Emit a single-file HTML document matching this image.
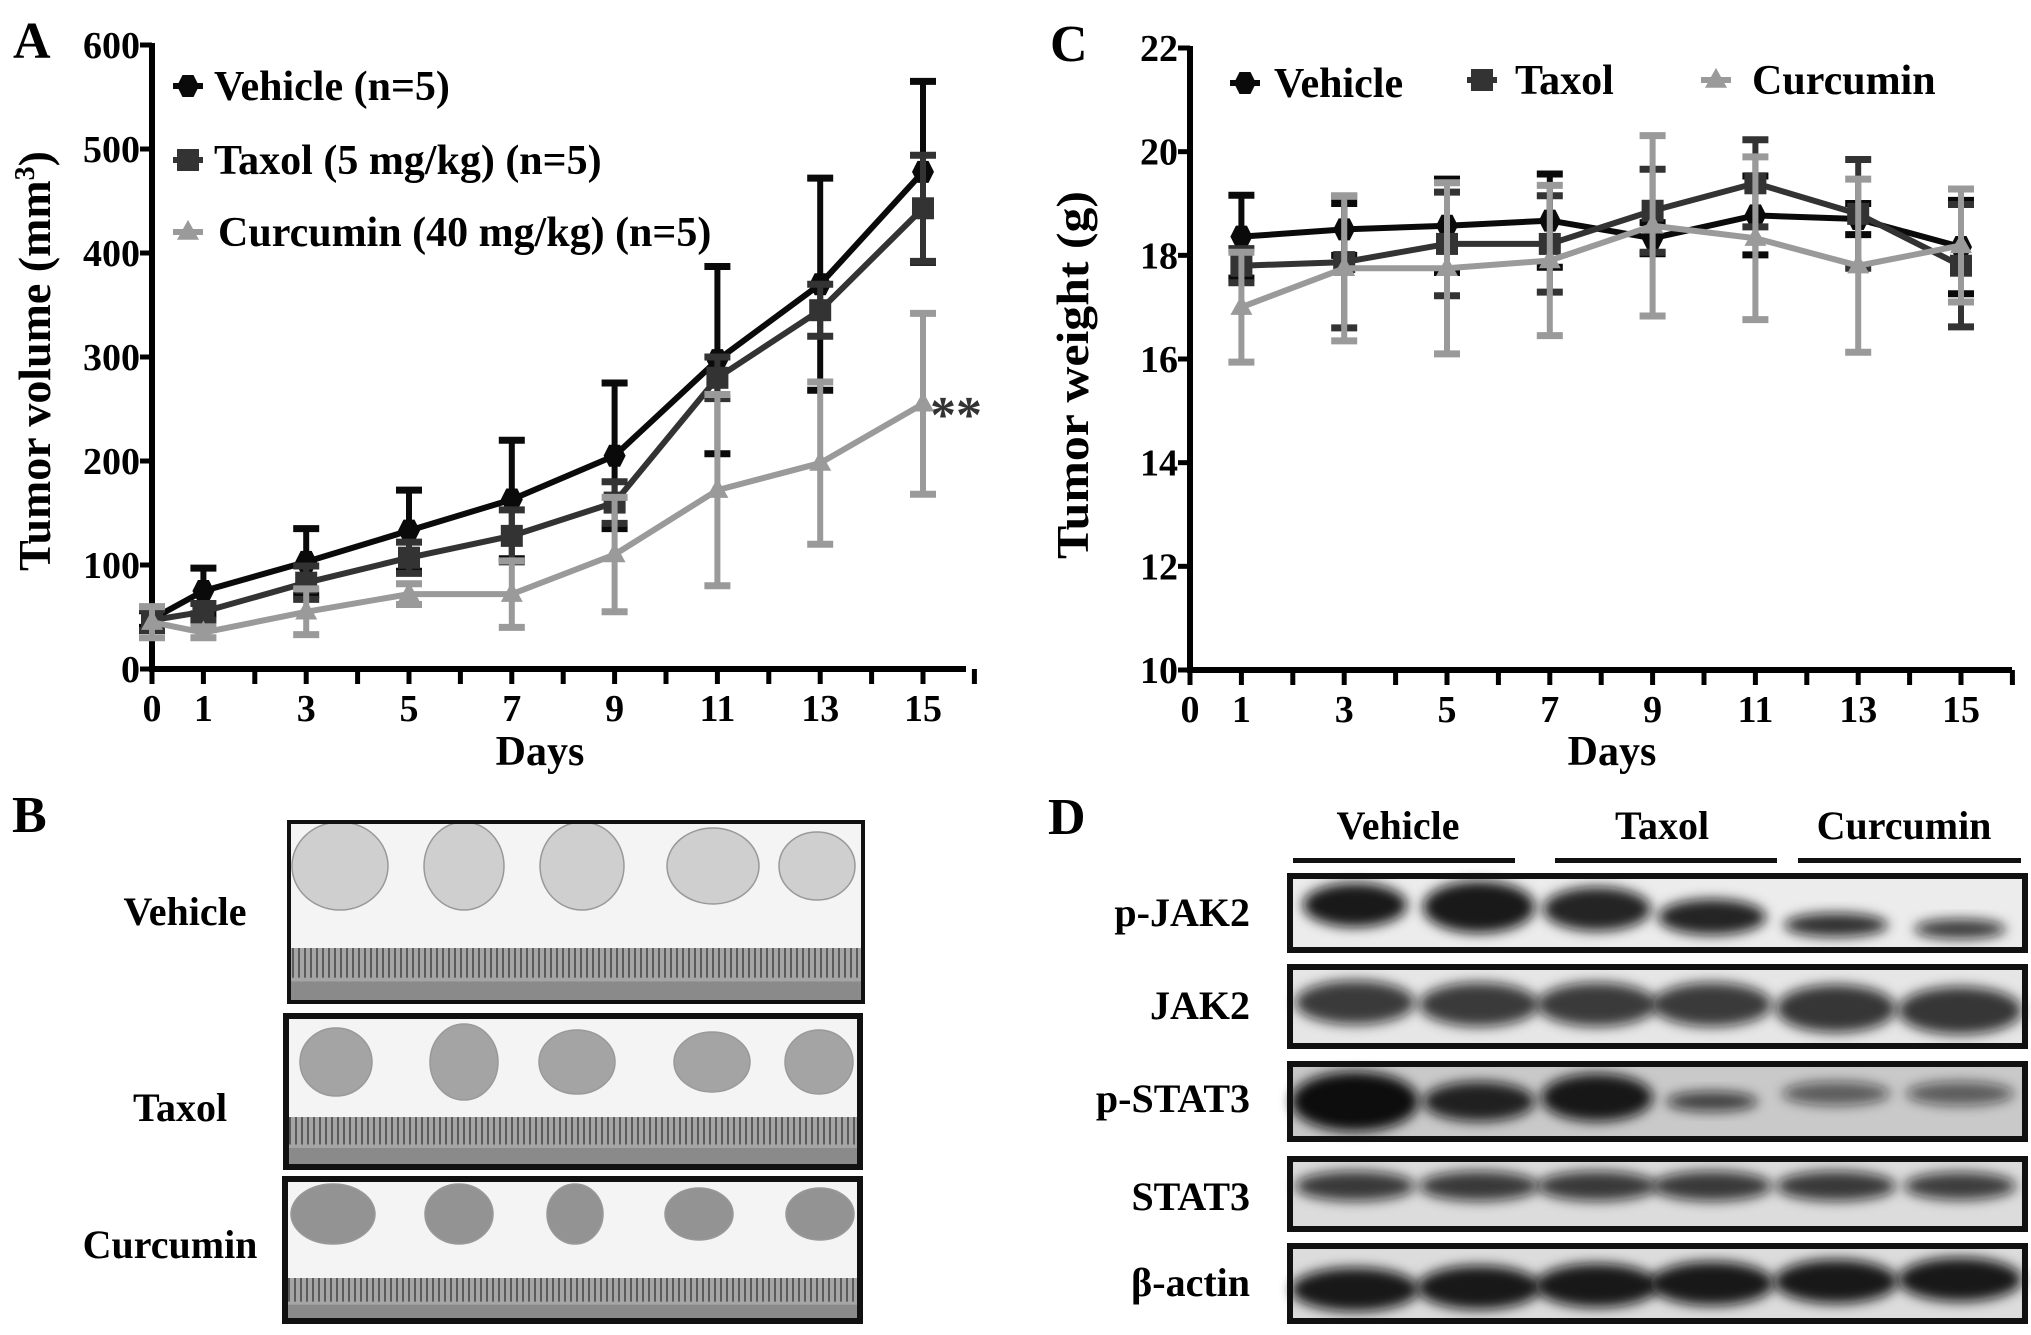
<!DOCTYPE html>
<html><head><meta charset="utf-8"><style>
html,body{margin:0;padding:0;background:#fff}
svg{display:block}
svg text{font-family:"Liberation Serif","Noto Serif CJK SC","DejaVu Serif","Times New Roman",serif;font-weight:bold;fill:#000}
</style></head><body>
<svg id="fig" width="2031" height="1335" viewBox="0 0 2031 1335" xmlns="http://www.w3.org/2000/svg" font-weight="bold" style="font-family:'Liberation Serif','Noto Serif CJK SC','DejaVu Serif','Times New Roman',serif">
<defs>
<filter id="blur" x="-20%" y="-50%" width="140%" height="200%"><feGaussianBlur stdDeviation="6"/></filter>
</defs>
<g id="panelA">
<text x="13" y="58" font-size="52">A</text>
<text transform="translate(50,361) rotate(-90)" text-anchor="middle" font-size="46" textLength="420" lengthAdjust="spacingAndGlyphs">Tumor volume (mm<tspan font-size="28" dy="-16">3</tspan><tspan dy="16">)</tspan></text>
<text x="540" y="765" text-anchor="middle" font-size="42">Days</text>
<text x="930" y="432" font-size="52" style="fill:#333">**</text>
</g>
<g id="panelC">
<text x="1050" y="61" font-size="52">C</text>
<text transform="translate(1088,375) rotate(-90)" text-anchor="middle" font-size="46" textLength="368" lengthAdjust="spacingAndGlyphs">Tumor weight (g)</text>
<text x="1612" y="765" text-anchor="middle" font-size="42">Days</text>
</g>
<g id="panelB">
<text x="12" y="832" font-size="52">B</text>
<text x="185" y="925" text-anchor="middle" font-size="40">Vehicle</text>
<text x="180" y="1121" text-anchor="middle" font-size="40">Taxol</text>
<text x="170" y="1258" text-anchor="middle" font-size="40">Curcumin</text>
</g>
<g id="panelD">
<text x="1048" y="834" font-size="52">D</text>
<text x="1398" y="839" text-anchor="middle" font-size="40">Vehicle</text>
<text x="1662" y="839" text-anchor="middle" font-size="40">Taxol</text>
<text x="1904" y="839" text-anchor="middle" font-size="40">Curcumin</text>
<rect x="1293" y="858" width="222" height="5" fill="#111"/>
<rect x="1555" y="858" width="222" height="5" fill="#111"/>
<rect x="1798" y="858" width="223" height="5" fill="#111"/>
</g>
</svg>
<script>
// ---- Panel A data ----
const daysA = [0,1,3,5,7,9,11,13,15];
const vehicleA = [48,75,103,133,163,205,297,370,478];
const vehicleAErr = [8,22,32,39,57,70,90,102,87];
const taxolA = [47,55,83,107,128,160,280,345,443];
const taxolAErr = [10,8,16,15,25,20,20,25,51];
const curcuminA = [45,35,55,72,72,110,172,198,255];
const curcuminAErr = [15,5,22,10,32,55,92,78,87];
const yTicksA = [0,100,200,300,400,500,600];
const xTickLabelsA = [0,1,3,5,7,9,11,13,15];
// ---- Panel C data ----
const daysC = [1,3,5,7,9,11,13,15];
const vehicleC = [18.36,18.5,18.57,18.67,18.33,18.77,18.7,18.16];
const vehicleCErr = [0.8,0.5,0.9,0.9,0.3,0.76,0.3,0.9];
const taxolC = [17.8,17.87,18.22,18.22,18.86,19.39,18.8,17.8];
const taxolCErr = [0.33,1.27,1.0,0.93,0.8,0.84,1.05,1.18];
const curcuminC = [17.0,17.75,17.75,17.9,18.57,18.33,17.8,18.19];
const curcuminCErr = [1.06,1.4,1.65,1.45,1.74,1.57,1.67,1.09];
const yTicksC = [10,12,14,16,18,20,22];
const xTickLabelsC = [0,1,3,5,7,9,11,13,15];
const seriesNames = ['Vehicle (n=5)','Taxol (5 mg/kg) (n=5)','Curcumin (40 mg/kg) (n=5)'];
const seriesNamesC = ['Vehicle','Taxol','Curcumin'];

const NS='http://www.w3.org/2000/svg';
function mk(parent,tag,attrs){const e=document.createElementNS(NS,tag);for(const k in attrs)e.setAttribute(k,attrs[k]);parent.appendChild(e);return e;}
const COLORS=['#0a0a0a','#333333','#9a9a9a'];

function marker(g,kind,x,y,color,s){
  let m;
  if(kind===0){m=mk(g,'path',{d:`M${x-s} ${y}L${x-s*0.5} ${y-s}L${x+s*0.5} ${y-s}L${x+s} ${y}L${x+s*0.5} ${y+s}L${x-s*0.5} ${y+s}Z`,fill:color});}
  else if(kind===1){m=mk(g,'rect',{x:x-s,y:y-s,width:2*s,height:2*s,fill:color});}
  else {m=mk(g,'path',{d:`M${x} ${y-s*1.1}L${x+s} ${y+s*0.7}L${x-s} ${y+s*0.7}Z`,fill:color});}
  return m;
}

function drawChart(gid,ax){
  const g=document.getElementById(gid);
  const X=d=>ax.x0+d*ax.dx;
  const Y=v=>ax.yb-(v-ax.vmin)*(ax.yb-ax.yt)/(ax.vmax-ax.vmin);
  const yl=mk(g,'line',{x1:ax.ax,y1:ax.yt-2,x2:ax.ax,y2:ax.yb+3,stroke:'#000','stroke-width':6});
  
  
  const xl=mk(g,'line',{x1:ax.ax-3,y1:ax.yb,x2:ax.xend,y2:ax.yb,stroke:'#000','stroke-width':6});
  
  
  ax.yTicks.forEach(v=>{
    mk(g,'line',{x1:ax.ax-12,y1:Y(v),x2:ax.ax,y2:Y(v),stroke:'#000','stroke-width':5});
    const t=mk(g,'text',{x:ax.ax-12,y:Y(v)+13,'text-anchor':'end','font-size':38});
    t.textContent=v;
    
    
  });
  for(let d=0;d<=ax.maxDay;d++){
    mk(g,'line',{x1:X(d),y1:ax.yb,x2:X(d),y2:ax.yb+15,stroke:'#000','stroke-width':5});
  }
  ax.xTicks.forEach(d=>{
    const t=mk(g,'text',{x:X(d),y:ax.yb+52,'text-anchor':'middle','font-size':38});
    t.textContent=d;
    
    
  });
  ax.series.forEach((s,si)=>{
    const sg=mk(g,'g',{});
    
    
    const c=COLORS[si];
    s.vals.forEach((v,i)=>{
      const x=X(ax.days[i]);
      mk(sg,'line',{x1:x,y1:Y(v+s.err[i]),x2:x,y2:Y(v-s.err[i]),stroke:c,'stroke-width':6});
      mk(sg,'line',{x1:x-13,y1:Y(v+s.err[i]),x2:x+13,y2:Y(v+s.err[i]),stroke:c,'stroke-width':7});
      mk(sg,'line',{x1:x-13,y1:Y(v-s.err[i]),x2:x+13,y2:Y(v-s.err[i]),stroke:c,'stroke-width':7});
    });
    const pts=s.vals.map((v,i)=>X(ax.days[i])+','+Y(v)).join(' ');
    const pl=mk(sg,'polyline',{points:pts,fill:'none',stroke:c,'stroke-width':6,'stroke-linejoin':'round'});
    
    
    s.vals.forEach((v,i)=>{
      const m=marker(sg,si,X(ax.days[i]),Y(v),c,11);
      
      
    });
  });
  ax.legend.forEach((L,i)=>{
    const lg=mk(g,'g',{});
    
    
    mk(lg,'line',{x1:L.mx-15,y1:L.y-14,x2:L.mx+15,y2:L.y-14,stroke:COLORS[i],'stroke-width':6});
    marker(lg,i,L.mx,L.y-14,COLORS[i],11);
    const t=mk(lg,'text',{x:L.tx,y:L.y,'font-size':42});
    t.textContent=L.label;
  });
}

drawChart('panelA',{p:'a',x0:152,dx:51.4,ax:152,xend:966,maxDay:16,yb:669,yt:45,vmin:0,vmax:600,
  yTicks:yTicksA,xTicks:xTickLabelsA,days:daysA,
  series:[{key:'vehicle',vals:vehicleA,err:vehicleAErr},{key:'taxol',vals:taxolA,err:taxolAErr},{key:'curcumin',vals:curcuminA,err:curcuminAErr}],
  legend:[{mx:188,tx:214,y:100,label:seriesNames[0]},{mx:188,tx:214,y:174,label:seriesNames[1]},{mx:188,tx:218,y:246,label:seriesNames[2]}]});

drawChart('panelC',{p:'c',x0:1190,dx:51.4,ax:1190,xend:2012,maxDay:16,yb:670,yt:48,vmin:10,vmax:22,
  yTicks:yTicksC,xTicks:xTickLabelsC,days:daysC,
  series:[{key:'vehicle',vals:vehicleC,err:vehicleCErr},{key:'taxol',vals:taxolC,err:taxolCErr},{key:'curcumin',vals:curcuminC,err:curcuminCErr}],
  legend:[{mx:1245,tx:1274,y:97,label:seriesNamesC[0]},{mx:1482,tx:1515,y:94,label:seriesNamesC[1]},{mx:1716,tx:1752,y:94,label:seriesNamesC[2]}]});

// ---- Panel B photos ----
(function(){
  const g=document.getElementById('panelB');
  const boxes=[
    {k:'vehicle',x:289,y:822,w:574,h:180,cy:866,rulerY:948,tumors:[[340,48,44],[464,40,44],[582,42,44],[713,46,38],[817,38,34]],fill:'#cfcfcf',bw:4},
    {k:'taxol',x:286,y:1016,w:574,h:151,cy:1062,rulerY:1117,tumors:[[336,36,34],[464,34,38],[577,38,32],[712,38,30],[819,34,32]],fill:'#a4a4a4',bw:6},
    {k:'curcumin',x:285,y:1179,w:575,h:142,cy:1214,rulerY:1278,tumors:[[333,42,30],[459,34,30],[575,28,30],[699,34,26],[820,34,26]],fill:'#939393',bw:6}
  ];
  boxes.forEach(b=>{
    const bg=mk(g,'g',{});
    
    
    mk(bg,'rect',{x:b.x,y:b.y,width:b.w,height:b.h,fill:'#f4f4f4'});
    b.tumors.forEach(t=>{
      const e=mk(bg,'ellipse',{cx:t[0],cy:b.cy,rx:t[1],ry:t[2],fill:b.fill,stroke:'#999','stroke-width':1.5});
      
      
    });
    const ry=b.rulerY, rh=b.y+b.h-ry;
    mk(bg,'rect',{x:b.x,y:ry,width:b.w,height:rh,fill:'#a5a5a5'});
    mk(bg,'rect',{x:b.x,y:ry+rh*0.62,width:b.w,height:rh*0.38,fill:'#8a8a8a'});
    for(let xx=b.x+4;xx<b.x+b.w;xx+=6){
      mk(bg,'line',{x1:xx,y1:ry,x2:xx,y2:ry+rh*0.55,stroke:'#333','stroke-width':1.3});
    }
    mk(bg,'rect',{x:b.x,y:b.y,width:b.w,height:b.h,fill:'none',stroke:'#111','stroke-width':b.bw});
  });
})();

// ---- Panel D blots ----
const blotLabels = ['p-JAK2','JAK2','p-STAT3','STAT3','β-actin'];
(function(){
  const g=document.getElementById('panelD');
  const lanes=[1355,1479,1597,1712,1836,1960];
  const rows=[
    {y:876,h:74,bg:'#ececec',bands:[[0,-8,0.95,52,22],[1,-6,0.95,56,26],[2,-4,0.9,54,22],[3,4,0.9,54,18],[4,12,0.85,52,12],[5,16,0.8,46,10]],base:926},
    {y:967,h:79,bg:'#e6e6e6',bands:[[0,-4,0.8,60,22],[1,-2,0.8,60,22],[2,-2,0.8,60,22],[3,-2,0.8,60,22],[4,2,0.82,60,24],[5,4,0.82,62,24]],base:1019},
    {y:1064,h:75,bg:'#c9c9c9',bands:[[0,0,1,64,30],[1,0,0.9,56,20],[2,-4,0.95,56,24],[3,0,0.75,46,10],[4,-8,0.6,54,12],[5,-8,0.6,54,12]],base:1112},
    {y:1159,h:70,bg:'#dcdcdc',bands:[[0,-8,0.8,60,15],[1,-8,0.8,60,15],[2,-8,0.8,60,15],[3,-8,0.8,60,15],[4,-8,0.8,60,15],[5,-8,0.78,56,14]],base:1210},
    {y:1246,h:75,bg:'#dcdcdc',bands:[[0,6,0.95,64,22],[1,4,0.95,62,22],[2,2,0.95,62,22],[3,0,0.95,62,22],[4,-2,0.95,62,22],[5,-4,0.95,62,22]],base:1296}
  ];
  rows.forEach((r,ri)=>{
    const rg=mk(g,'g',{});
    
    
    mk(rg,'rect',{x:1290,y:r.y,width:735,height:r.h,fill:r.bg});
    r.bands.forEach(b=>{
      const e=mk(rg,'ellipse',{cx:lanes[b[0]],cy:r.y+r.h/2+b[1],rx:b[3],ry:b[4],fill:'#111','fill-opacity':b[2],filter:'url(#blur)'});
      
      
    });
    mk(rg,'rect',{x:1290,y:r.y,width:735,height:r.h,fill:'none',stroke:'#111','stroke-width':6});
    const t=mk(rg,'text',{x:1250,y:r.base,'text-anchor':'end','font-size':40});
    t.textContent=blotLabels[ri];
    
    
  });
})();
</script>
</body></html>
